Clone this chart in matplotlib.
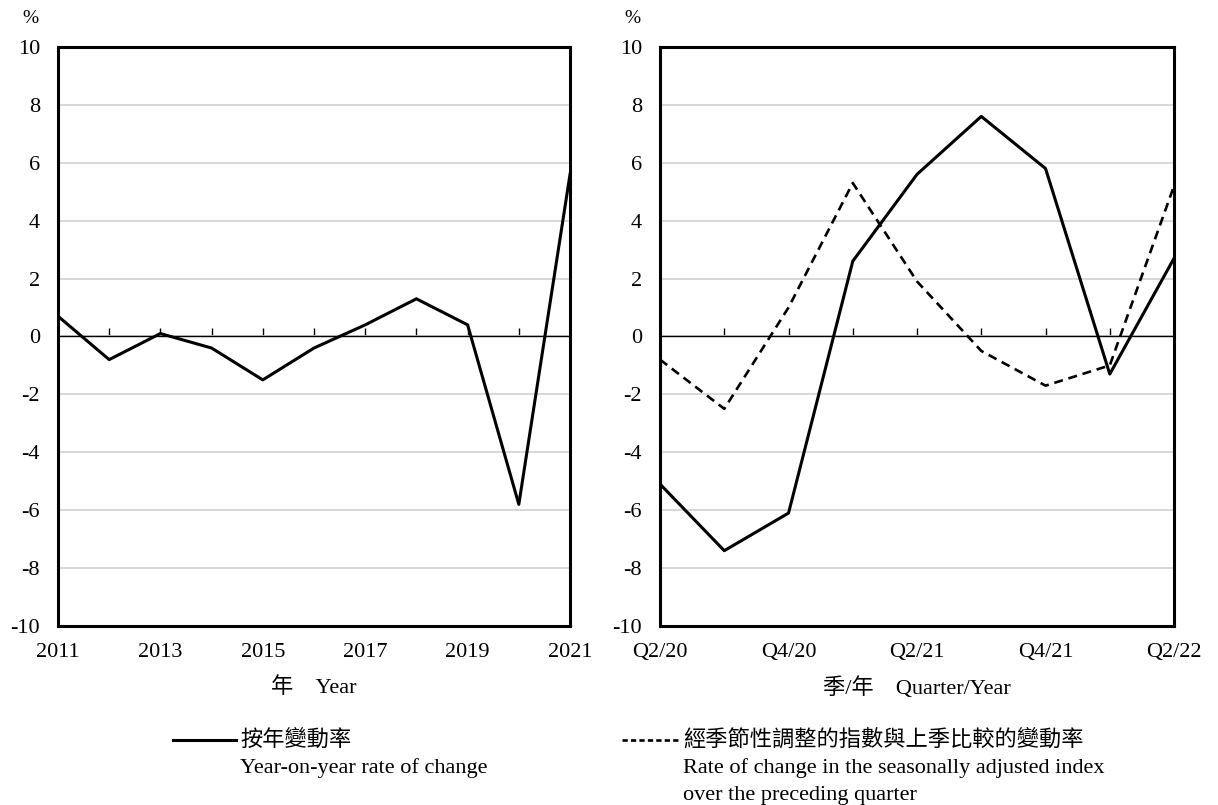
import matplotlib
matplotlib.use('Agg')
import matplotlib.pyplot as plt
from matplotlib.lines import Line2D

plt.rcParams['font.family'] = ['Liberation Serif', 'Noto Sans CJK TC', 'DejaVu Sans']

# 按年變動率 (年)
years = list(range(2011, 2022))
yoy_annual = [0.7, -0.8, 0.1, -0.4, -1.5, -0.4, 0.4, 1.3, 0.4, -5.8, 5.6]
year_ticks = [2011, 2013, 2015, 2017, 2019, 2021]

# 季度
quarters = ['Q2/20', 'Q3/20', 'Q4/20', 'Q1/21', 'Q2/21', 'Q3/21', 'Q4/21', 'Q1/22', 'Q2/22']
yoy_quarter = [-5.1, -7.4, -6.1, 2.6, 5.6, 7.6, 5.8, -1.3, 2.7]
qoq_sa = [-0.8, -2.5, 1.0, 5.3, 1.9, -0.5, -1.7, -1.0, 5.2]

yticks = list(range(-10, 11, 2))
FS = 16

fig = plt.figure(figsize=(12.18, 8.05), dpi=100)
ax1 = fig.add_axes([0.0476, 0.2224, 0.4204, 0.7193])
ax2 = fig.add_axes([0.5419, 0.2224, 0.4220, 0.7193])


def style_axis(ax):
    ax.set_ylim(-10, 10)
    ax.set_yticks(yticks)
    ax.set_yticklabels([str(v) for v in yticks], fontsize=FS)
    ax.tick_params(axis='y', length=0, pad=13)
    ax.tick_params(axis='x', length=0, pad=12, labelsize=FS)
    for s in ax.spines.values():
        s.set_linewidth(2.2)
        s.set_color('black')
    ax.grid(axis='y', color='#d4d4d4', lw=1.3)
    ax.set_axisbelow(True)
    ax.axhline(0, color='black', lw=1.0, zorder=2)
    # 零軸上的刻度
    sec = ax.secondary_xaxis(0.5)
    for s in sec.spines.values():
        s.set_visible(False)
    sec.tick_params(axis='x', direction='out', length=6, width=1.0,
                    labelbottom=False, labeltop=False, color='black')
    return sec


sec1 = style_axis(ax1)
ax1.plot(years, yoy_annual, color='black', lw=2.2, zorder=3)
ax1.set_xlim(years[0], years[-1])
ax1.set_xticks(year_ticks)
ax1.set_xticklabels([str(y) for y in year_ticks])
sec1.set_xticks(years[1:-1], labels=[''] * len(years[1:-1]))
ax1.set_xlabel('年　Year', fontsize=FS, labelpad=11)

xq = list(range(len(quarters)))
sec2 = style_axis(ax2)
ax2.plot(xq, yoy_quarter, color='black', lw=2.2, zorder=3)
ax2.plot(xq, qoq_sa, color='black', lw=1.9, dashes=(3.4, 2.2), zorder=3)
ax2.set_xlim(0, len(quarters) - 1)
ax2.set_xticks(xq[::2])
ax2.set_xticklabels(quarters[::2])
sec2.set_xticks(xq[1:-1], labels=[''] * len(xq[1:-1]))
ax2.set_xlabel('季/年　Quarter/Year', fontsize=FS, labelpad=11)

fig.text(0.025, 0.977, '%', fontsize=14, ha='center', va='center')
fig.text(0.519, 0.977, '%', fontsize=14, ha='center', va='center')

# 圖例
fig.add_artist(Line2D([0.142, 0.194], [0.0805, 0.0805], transform=fig.transFigure,
                      color='black', lw=2.2))
fig.text(0.197, 0.0805, '按年變動率', fontsize=FS, ha='left', va='center')
fig.text(0.197, 0.046, 'Year-on-year rate of change', fontsize=FS, ha='left', va='center')

fig.add_artist(Line2D([0.511, 0.558], [0.0805, 0.0805], transform=fig.transFigure,
                      color='black', lw=1.9, dashes=(2.0, 1.2)))
fig.text(0.561, 0.0805, '經季節性調整的指數與上季比較的變動率', fontsize=FS, ha='left', va='center')
fig.text(0.561, 0.046, 'Rate of change in the seasonally adjusted index', fontsize=FS,
         ha='left', va='center')
fig.text(0.561, 0.012, 'over the preceding quarter', fontsize=FS, ha='left', va='center')

fig.savefig('out.png', dpi=100)
